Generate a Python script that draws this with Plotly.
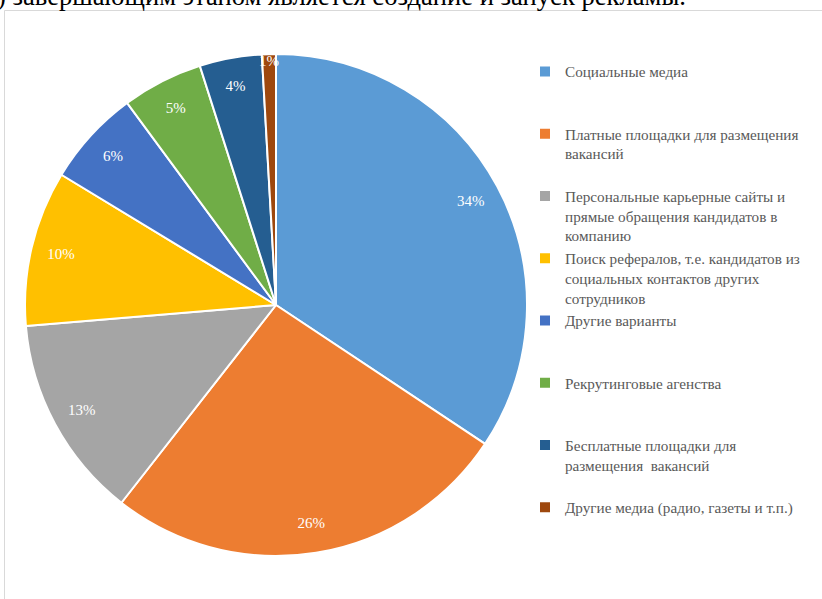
import plotly.graph_objects as go

categories = [
    "Социальные медиа",
    "Платные площадки для размещения<br>вакансий",
    "Персональные карьерные сайты и<br>прямые обращения кандидатов в<br>компанию",
    "Поиск рефералов, т.е. кандидатов из<br>социальных контактов других<br>сотрудников",
    "Другие варианты",
    "Рекрутинговые агенства",
    "Бесплатные площадки для<br>размещения  вакансий",
    "Другие медиа (радио, газеты и т.п.)",
]
values = [34.3, 26.2, 13.1, 10.0, 6.2, 5.2, 4.0, 0.9]
colors = ["#5B9BD5", "#ED7D31", "#A5A5A5", "#FFC000", "#4472C4", "#70AD47", "#255E91", "#9E480E"]

# pad legend labels to three lines so entries are evenly spaced
def pad(label, n=3):
    k = label.count("<br>") + 1
    return label + "<br> " * (n - k)

labels = [pad(c) for c in categories]

W, H = 822, 599
dom = dict(x=[25 / W, 527 / W], y=[1 - 556 / H, 1 - 54 / H])

fig = go.Figure()
# filled slices
fig.add_trace(go.Pie(
    labels=labels,
    values=values,
    sort=False,
    direction="clockwise",
    rotation=0,
    marker=dict(colors=colors, line=dict(color="white", width=2)),
    textinfo="none",
    hoverinfo="label+percent",
    domain=dom,
))
# transparent ring carrying the percentage labels near the rim
fig.add_trace(go.Pie(
    labels=labels,
    values=values,
    sort=False,
    direction="clockwise",
    rotation=0,
    hole=0.76,
    marker=dict(colors=["rgba(0,0,0,0)"] * len(values), line=dict(width=0)),
    texttemplate="%{percent:.0%}",
    textposition="inside",
    insidetextorientation="horizontal",
    textfont=dict(family="Liberation Serif", size=15, color="white"),
    hoverinfo="skip",
    showlegend=False,
    domain=dom,
))

fig.update_layout(
    width=W, height=H,
    margin=dict(l=0, r=0, t=0, b=0),
    paper_bgcolor="white",
    showlegend=True,
    uniformtext=dict(mode="show", minsize=15),
    legend=dict(
        x=525 / W, xanchor="left",
        y=1 - 55 / H, yanchor="top",
        valign="top",
        font=dict(family="Liberation Serif", size=15.2, color="#595959"),
        bgcolor="rgba(0,0,0,0)",
    ),
    shapes=[dict(
        type="rect", xref="paper", yref="paper",
        x0=4.5 / W, x1=1.05, y0=-0.05, y1=1 - 10.5 / H,
        line=dict(color="#D9D9D9", width=1),
        layer="below",
    )],
    annotations=[dict(
        text=") завершающим этапом является создание и запуск рекламы.",
        xref="paper", yref="paper",
        x=-5 / W, xanchor="left",
        y=1 - 13 / H, yanchor="bottom",
        showarrow=False,
        font=dict(family="Liberation Serif", size=26.6, color="black"),
    )],
)

fig.write_html("out.html", config={"displayModeBar": False},
               post_script="document.body.style.margin='0';")
